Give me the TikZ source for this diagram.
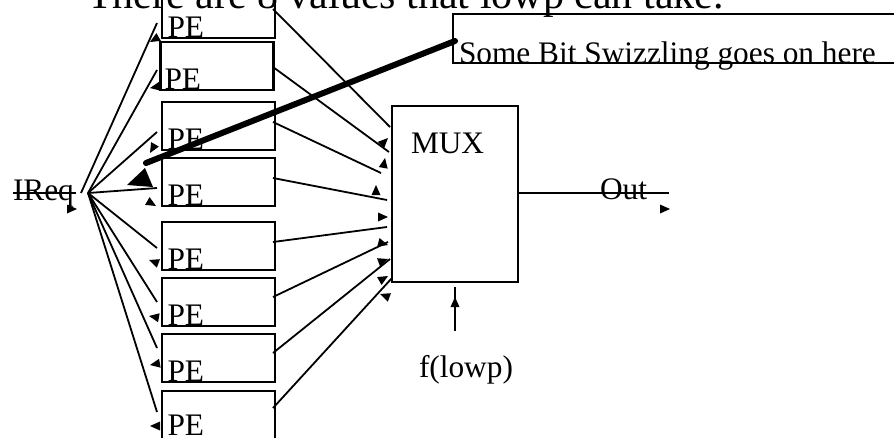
\documentclass[tikz,border=0pt]{standalone}
\usepackage{fontspec}
\setmainfont{Liberation Serif}
\usetikzlibrary{calc}
\newcommand\ahead[3]{\fill[shift={(#1,#2)},rotate=#3] (0,0) -- (-10,-4.5) -- (-10,4.5) -- cycle;}
\begin{document}
\begin{tikzpicture}[x=0.75pt,y=-0.75pt,
  lbl/.style={anchor=base west,inner sep=0pt,outer sep=0pt,font=\fontsize{23.5}{28}\selectfont},
  ttl/.style={anchor=base west,inner sep=0pt,outer sep=0pt,font=\fontsize{31.5}{36}\selectfont},
  boxst/.style={draw,line width=1.7pt,inner sep=0pt,outer sep=0pt},
  pebox/.style={boxst,minimum width=84.75pt,minimum height=36pt},
  conn/.style={line width=1.35pt},
  heavy/.style={line width=4.5pt,line cap=round}]
\useasboundingbox (0,0) rectangle (894,437);
% title
\node[ttl] (title) at (87,8) {There are 8 values that lowp can take.};
% PE boxes
\foreach \i/\cx/\cy/\lx/\by in {1/218.5/14/167.5/37, 2/217/66/164.5/89, 3/218.5/126/167.5/149, 4/218.5/182/167.5/205,
    5/218.5/246/167.5/269, 6/218.5/302/167.5/325, 7/218.5/358/167.5/381, 8/218.5/415/167.5/435}{
  \node[pebox] (pe\i) at (\cx,\cy) {};
  \node[lbl] (pe\i t) at (\lx,\by) {PE};
}
% MUX
\node[boxst,minimum width=94.5pt,minimum height=132pt] (mux) at (455,194) {};
\node[lbl] (muxt) at (411,153) {MUX};
% swizzle box
\node[boxst,anchor=north west,minimum width=345pt,minimum height=36.75pt] (swz) at (453,14) {};
\node[lbl] (swzt) at (459,63) {Some Bit Swizzling goes on here};
% IReq
\node[lbl] (ireq) at (13,200) {IReq};
\coordinate (is) at (13,193);
\coordinate (ie) at (76,193);
\draw[conn] (is) -- (ie);
\ahead{77}{209}{0}
% fan
\coordinate (fan) at (88,193);
\coordinate (fanb) at (81,193);
\coordinate (l1) at (157,23);
\draw[conn] (fanb) -- (l1);
\foreach \i/\yy in {2/70,3/132,4/188,5/248,6/302,7/348,8/412}{
  \coordinate (l\i) at (157,\yy);
  \draw[conn] (fan) -- (l\i);
}
% lines to MUX
\foreach \i/\sy/\ex/\ey in {1/9/390/127, 2/67/389/152, 3/122/381/173, 4/178/387/200,
    5/242/387/227, 6/297/388/242, 7/353/390/259, 8/408/392/278}{
  \coordinate (r\i) at (273,\sy);
  \coordinate (m\i) at (\ex,\ey);
  \draw[conn] (r\i) -- (m\i);
}
% stray arrowheads at PE inputs
\ahead{150}{42}{210}
\ahead{150}{88}{190}
\ahead{150}{153}{240}
\ahead{156}{206}{330}
\ahead{149}{260}{160}
\ahead{149}{316}{170}
\ahead{150}{365}{190}
\ahead{150}{426}{180}
% stray arrowheads at MUX inputs
\ahead{388}{138}{45}
\ahead{385}{158}{80}
\ahead{376}{185}{90}
\ahead{388}{217}{0}
\ahead{388}{245}{345}
\ahead{388}{259}{20}
\ahead{388}{276}{30}
\ahead{380}{294}{160}
% Out
\coordinate (outend) at (669,193);
\draw[conn] (mux.east |- outend) -- (outend);
\node[lbl] (outt) at (600,199) {Out};
\ahead{670}{209}{0}
% f(lowp)
\coordinate (fl1) at (455,287);
\coordinate (fl2) at (455,331);
\draw[conn] (fl2) -- (fl1);
\ahead{455}{297}{90}
\node[lbl] (flt) at (419,377) {f(lowp)};
% heavy pointer
\coordinate (hv1) at (146,163);
\coordinate (hv2) at (455,41);
\draw[heavy] (hv1) -- (hv2);
\fill (127,185) -- (145,168) -- (153,187) -- cycle;
\end{tikzpicture}
\end{document}
